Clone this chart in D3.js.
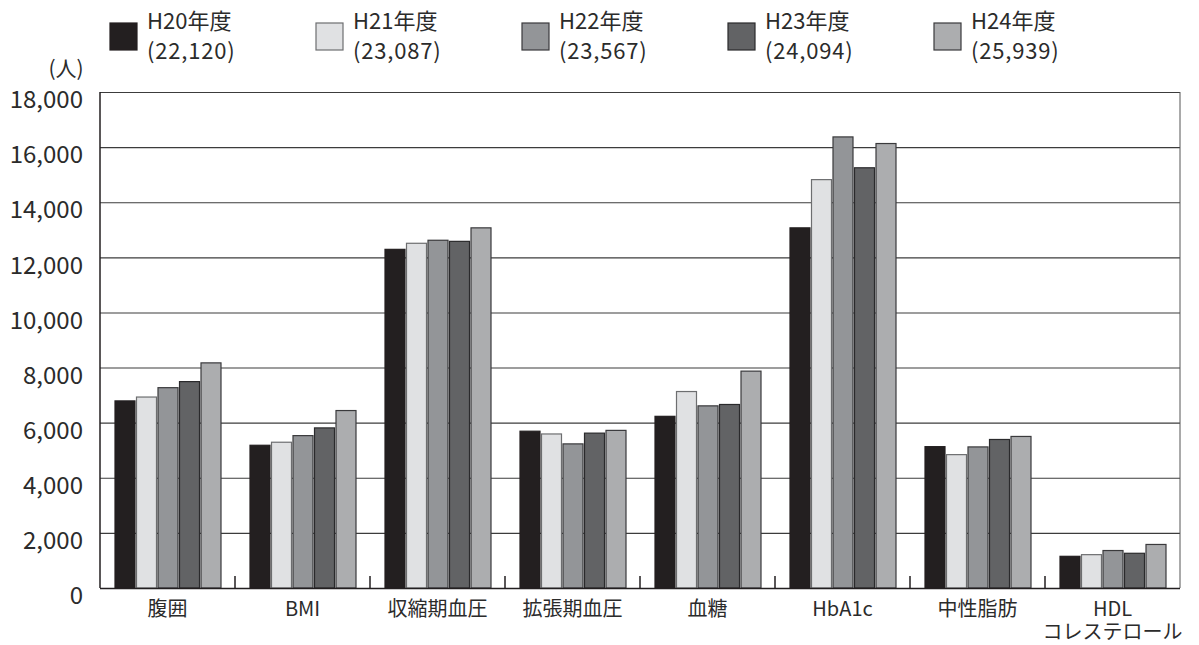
<!DOCTYPE html>
<html>
<head>
<meta charset="utf-8">
<script src="https://cdn.jsdelivr.net/npm/d3@7"></script>
<style>
  body { margin: 0; background: #fff; }
  svg { display: block; font-family: "Noto Sans CJK JP", "Noto Sans", sans-serif; }
</style>
</head>
<body>
<div id="chart"></div>
<script>
// Categories and yearly series
var categories = ["腹囲", "BMI", "収縮期血圧", "拡張期血圧", "血糖", "HbA1c", "中性脂肪", "HDL\nコレステロール"];
var years = ["H20年度", "H21年度", "H22年度", "H23年度", "H24年度"];
var totals = ["(22,120)", "(23,087)", "(23,567)", "(24,094)", "(25,939)"];
var h20 = [6790, 5180, 12290, 5690, 6230, 13070, 5130, 1150];
var h21 = [6930, 5290, 12510, 5590, 7130, 14820, 4840, 1210];
var h22 = [7270, 5530, 12620, 5230, 6610, 16370, 5120, 1360];
var h23 = [7490, 5810, 12580, 5620, 6660, 15250, 5390, 1260];
var h24 = [8170, 6440, 13070, 5720, 7870, 16130, 5500, 1580];
var yTicks = [0, 2000, 4000, 6000, 8000, 10000, 12000, 14000, 16000, 18000];

var series = [h20, h21, h22, h23, h24];
var colors = ["#231f20", "#e0e1e3", "#939598", "#626365", "#acadaf"];
var strokes = ["#231f20", "#6d6e70", "#3a3a3c", "#2a2a2c", "#3a3a3c"];
var textColor = "#2b2b2b";

var width = 1199, height = 645;
var margin = { top: 92, right: 19, bottom: 57, left: 100 };

var svg = d3.select("#chart").append("svg")
  .attr("width", width)
  .attr("height", height);

var x0 = d3.scaleBand()
  .domain(categories)
  .range([margin.left, width - margin.right]);

var x1 = d3.scaleBand()
  .domain(d3.range(years.length))
  .range([15, x0.bandwidth() - 14])
  .paddingInner(0.07);

var y = d3.scaleLinear()
  .domain([0, 18000])
  .range([height - margin.bottom, margin.top]);

// Gridlines
svg.append("g")
  .selectAll("line")
  .data(yTicks)
  .join("line")
  .attr("x1", margin.left)
  .attr("x2", width - margin.right)
  .attr("y1", d => y(d) + 0.5)
  .attr("y2", d => y(d) + 0.5)
  .attr("stroke", "#3c3c3c")
  .attr("stroke-width", 1.1);

// Y axis labels (sit a little below their gridline, as in the original)
var yAxis = d3.axisLeft(y)
  .tickValues(yTicks)
  .tickFormat(d3.format(","))
  .tickSize(0)
  .tickPadding(17);

svg.append("g")
  .attr("transform", `translate(${margin.left},0)`)
  .call(yAxis)
  .call(g => g.select(".domain").remove())
  .call(g => g.selectAll("text")
    .attr("y", 8)
    .attr("font-size", 24)
    .attr("fill", textColor)
    .attr("font-family", "\"Noto Sans CJK JP\", sans-serif"));

// Bars
var groups = svg.append("g")
  .selectAll("g")
  .data(categories)
  .join("g")
  .attr("transform", d => `translate(${x0(d)},0)`);

groups.selectAll("rect")
  .data((d, i) => series.map((s, k) => ({ k: k, v: s[i] })))
  .join("rect")
  .attr("x", d => x1(d.k))
  .attr("width", x1.bandwidth())
  .attr("y", d => y(d.v))
  .attr("height", d => y(0) - y(d.v))
  .attr("fill", d => colors[d.k])
  .attr("stroke", d => strokes[d.k])
  .attr("stroke-width", 1.2);

// Plot frame
svg.append("line")
  .attr("x1", margin.left).attr("x2", margin.left)
  .attr("y1", y(18000)).attr("y2", y(0))
  .attr("stroke", "#231f20").attr("stroke-width", 1.5);
svg.append("line")
  .attr("x1", width - margin.right).attr("x2", width - margin.right)
  .attr("y1", y(18000)).attr("y2", y(0))
  .attr("stroke", "#555").attr("stroke-width", 1);
svg.append("line")
  .attr("x1", margin.left).attr("x2", width - margin.right)
  .attr("y1", y(0) + 0.5).attr("y2", y(0) + 0.5)
  .attr("stroke", "#231f20").attr("stroke-width", 1.5);

// Category separators at the bottom
svg.append("g")
  .selectAll("line")
  .data(categories.slice(1))
  .join("line")
  .attr("x1", d => x0(d))
  .attr("x2", d => x0(d))
  .attr("y1", y(0))
  .attr("y2", y(0) - 12)
  .attr("stroke", "#231f20")
  .attr("stroke-width", 1.5);

// Category labels
svg.append("g")
  .selectAll("text")
  .data(categories)
  .join("text")
  .attr("x", d => x0(d) + x0.bandwidth() / 2)
  .attr("y", 616)
  .attr("text-anchor", "middle")
  .attr("font-size", 20)
  .attr("fill", textColor)
  .each(function(d) {
    var lines = d.split("\n");
    var t = d3.select(this);
    lines.forEach((l, i) => {
      t.append("tspan")
        .attr("x", x0(d) + x0.bandwidth() / 2)
        .attr("dy", i === 0 ? 0 : 23)
        .text(l);
    });
  });

// Unit label
svg.append("text")
  .attr("x", 66)
  .attr("y", 76)
  .attr("text-anchor", "middle")
  .attr("font-size", 21)
  .attr("fill", textColor)
  .text("(人)");

// Legend
var legend = svg.append("g")
  .selectAll("g")
  .data(years)
  .join("g")
  .attr("transform", (d, i) => `translate(${110 + i * 206},23)`);

legend.append("rect")
  .attr("width", 27)
  .attr("height", 27)
  .attr("fill", (d, i) => colors[i])
  .attr("stroke", (d, i) => strokes[i])
  .attr("stroke-width", 1.2);

legend.append("text")
  .attr("x", 37)
  .attr("y", 6)
  .attr("font-size", 22)
  .attr("fill", textColor)
  .text(d => d);

legend.append("text")
  .attr("x", 37)
  .attr("y", 36)
  .attr("font-size", 22)
  .attr("letter-spacing", 0.8)
  .attr("fill", textColor)
  .text((d, i) => totals[i]);
</script>
</body>
</html>
